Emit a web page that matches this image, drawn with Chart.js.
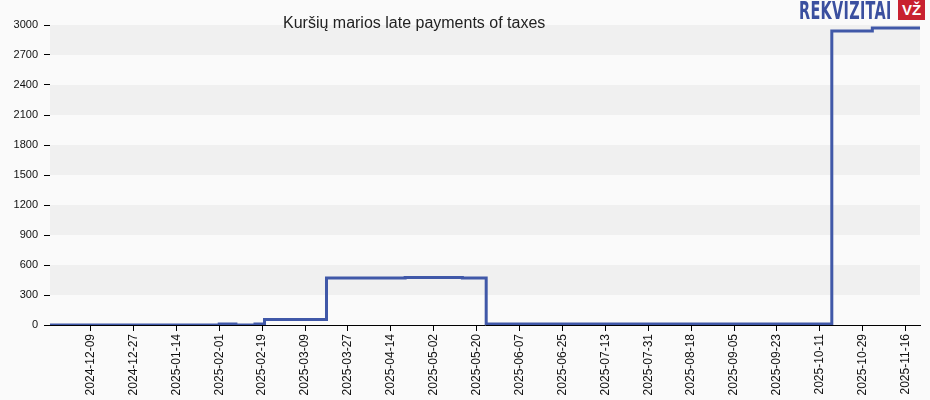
<!DOCTYPE html>
<html>
<head>
<meta charset="utf-8">
<script src="https://cdn.jsdelivr.net/npm/chart.js@4.4.1/dist/chart.umd.min.js"></script>
<style>
    body { margin: 0; background: #fafafa; }
    #wrap { position: relative; width: 930px; height: 400px; }
    #title { position: absolute; left: 283px; top: 14px; font: 16px "Liberation Sans", Arial, sans-serif; color: #222; }
    #logo { position: absolute; left: 799px; top: -4px; font: bold 25px "Liberation Sans Narrow", "DejaVu Sans Condensed", sans-serif; color: #3a4f9f; letter-spacing: 0.5px; transform: scaleX(0.64); transform-origin: left top; white-space: nowrap; }
    #vz { position: absolute; left: 898px; top: 0; width: 27px; height: 20px; background: #c8202f; color: #fff; font: bold 15px "Liberation Sans", Arial, sans-serif; text-align: center; line-height: 20px; }
</style>
</head>
<body>
<div id="wrap">
    <canvas id="lateChart" width="930" height="400"></canvas>
    <div id="title">Kuršių marios late payments of taxes</div>
    <div id="logo">REKVIZITAI</div>
    <div id="vz">VŽ</div>
</div>
<script>
// Dates where the amount changes, and the amount from that date on
const changeDates = ["2024-11-22", "2025-02-01", "2025-02-08", "2025-02-16", "2025-02-20", "2025-03-18",
    "2025-04-20", "2025-05-14", "2025-05-24", "2025-10-16", "2025-11-02", "2025-11-22"];
const amounts = [0, 10, 0, 10, 55, 470, 474, 471, 10, 2940, 2970, 2970];

// Dates shown on the x axis
const tickDates = ["2024-12-09", "2024-12-27", "2025-01-14", "2025-02-01", "2025-02-19", "2025-03-09",
    "2025-03-27", "2025-04-14", "2025-05-02", "2025-05-20", "2025-06-07", "2025-06-25", "2025-07-13",
    "2025-07-31", "2025-08-18", "2025-09-05", "2025-09-23", "2025-10-11", "2025-10-29", "2025-11-16"];

const DAY = 86400000;
const dayOf = d => Math.round(Date.parse(d) / DAY);
const labelOf = v => new Date(v * DAY).toISOString().slice(0, 10);

const points = changeDates.map((d, i) => ({ x: dayOf(d), y: amounts[i] }));

// Alternating grey bands behind the plot
const bands = {
    id: "bands",
    beforeDatasetsDraw(chart) {
        const { ctx, chartArea, scales } = chart;
        const y = scales.y;
        for (let v = 0; v < 3000; v += 300) {
            ctx.fillStyle = (v / 300) % 2 === 1 ? "#f0f0f0" : "#fafafa";
            const top = y.getPixelForValue(v + 300);
            const bottom = y.getPixelForValue(v);
            ctx.fillRect(chartArea.left, top, chartArea.right - chartArea.left, bottom - top);
        }
    }
};

new Chart(document.getElementById("lateChart"), {
    type: "line",
    data: {
        datasets: [{
            data: points,
            stepped: true,
            borderColor: "#4058a8",
            borderWidth: 3,
            pointRadius: 0,
            fill: false
        }]
    },
    options: {
        responsive: false,
        animation: false,
        layout: { padding: { top: 25, right: 10 } },
        plugins: { legend: { display: false }, tooltip: { enabled: false } },
        scales: {
            x: {
                type: "linear",
                min: dayOf("2024-11-22"),
                max: dayOf("2025-11-22"),
                afterBuildTicks: scale => { scale.ticks = tickDates.map(d => ({ value: dayOf(d) })); },
                afterFit: scale => { scale.height = 75; },
                grid: { drawOnChartArea: false, drawTicks: true, tickLength: 6, color: "#000" },
                border: { color: "#000", width: 1 },
                ticks: {
                    autoSkip: false,
                    minRotation: 90,
                    maxRotation: 90,
                    padding: 3,
                    color: "#111",
                    font: { family: "'Liberation Sans', Arial", size: 12 },
                    callback: v => labelOf(v)
                }
            },
            y: {
                min: 0,
                max: 3000,
                afterFit: scale => { scale.width = 50; },
                grid: { drawOnChartArea: false, drawTicks: true, tickLength: 6, color: "#000" },
                border: { color: "#000", width: 1 },
                ticks: {
                    stepSize: 300,
                    padding: 6,
                    color: "#111",
                    font: { family: "'Liberation Sans', Arial", size: 11 },
                    callback: v => String(v)
                }
            }
        }
    },
    plugins: [bands]
});
</script>
</body>
</html>
